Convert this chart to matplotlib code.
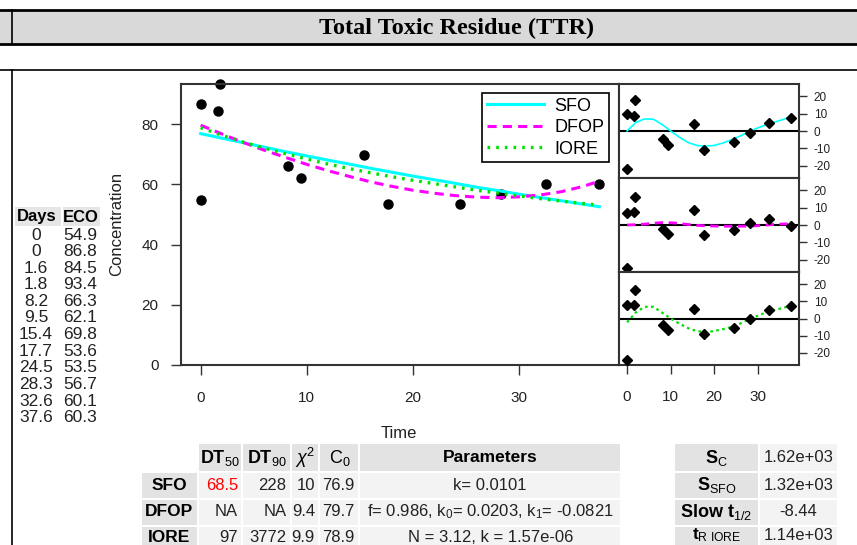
import matplotlib
matplotlib.use('Agg')
import matplotlib.pyplot as plt
from matplotlib.patches import Rectangle

plt.rcParams['font.family'] = ['Liberation Sans', 'DejaVu Sans']
plt.rcParams['mathtext.fontset'] = 'custom'
plt.rcParams['mathtext.rm'] = 'Liberation Sans'
plt.rcParams['mathtext.bf'] = 'Liberation Sans:bold'
plt.rcParams['mathtext.it'] = 'Liberation Sans:italic'
plt.rcParams['axes.unicode_minus'] = False

W, H = 857, 545

# observed data
days = [0, 0, 1.6, 1.8, 8.2, 9.5, 15.4, 17.7, 24.5, 28.3, 32.6, 37.6]
eco = [54.9, 86.8, 84.5, 93.4, 66.3, 62.1, 69.8, 53.6, 53.5, 56.7, 60.1, 60.3]

# fitted curves
fit_t = [0, 2, 4, 6, 8, 10, 12, 14, 16, 18, 20, 22, 24, 26, 28, 30, 32, 34, 36, 37.6]
sfo_fit = [76.9, 75.4, 73.9, 72.4, 70.9, 69.5, 68.1, 66.8, 65.4, 64.1, 62.8, 61.6,
           60.4, 59.1, 58.0, 56.8, 55.7, 54.6, 53.5, 52.6]
dfop_fit = [79.7, 76.8, 74.0, 71.4, 69.0, 66.7, 64.6, 62.7, 60.9, 59.4, 58.1, 57.1,
            56.3, 55.8, 55.6, 55.9, 56.5, 57.6, 59.3, 61.1]
iore_fit = [78.9, 76.4, 74.1, 72.1, 70.2, 68.5, 66.8, 65.3, 63.9, 62.6, 61.4, 60.3,
            59.2, 58.1, 57.2, 56.2, 55.3, 54.5, 53.7, 53.1]

# residuals
sfo_res = [-22.0, 9.9, 8.8, 17.9, -4.5, -7.8, 4.0, -10.7, -6.5, -1.1, 4.8, 7.7]
dfop_res = [-24.8, 7.1, 7.2, 16.3, -2.4, -5.1, 8.4, -6.0, -2.6, 1.1, 3.3, -0.8]
iore_res = [-24.0, 7.9, 7.6, 16.8, -3.7, -6.8, 5.5, -9.2, -5.4, -0.3, 5.0, 7.2]

# smoothed residual trends
sm_t = [0, 2, 4, 6, 8, 10, 12, 14, 16, 18, 20, 22, 24, 26, 28, 30, 32, 34, 36, 37.6]
sfo_smooth = [0.0, 4.9, 6.9, 6.8, 3.8, 0.0, -3.6, -6.6, -8.3, -8.7, -8.3, -6.9,
              -5.0, -2.8, -0.3, 1.8, 3.6, 5.2, 6.8, 8.2]
dfop_smooth = [0.0, 0.2, 0.5, 1.0, 1.4, 1.3, 0.9, 0.3, -0.2, -0.5, -0.6, -0.7,
               -0.7, -0.7, -0.6, -0.4, 0.0, 0.4, 0.6, 0.6]
iore_smooth = [-2.2, 3.5, 6.8, 6.8, 3.5, 0.0, -3.0, -5.6, -7.3, -7.9, -7.3, -6.2,
               -4.9, -2.9, -0.6, 1.6, 3.6, 5.0, 6.3, 7.4]

models = ['SFO', 'DFOP', 'IORE']
dt50 = ['68.5', 'NA', '97']
dt90 = ['228', 'NA', '3772']
chi2 = ['10', '9.4', '9.9']
c0 = ['76.9', '79.7', '78.9']
params = ['k= 0.0101',
          'f= 0.986, k$_0$= 0.0203, k$_1$= -0.0821',
          'N = 3.12, k = 1.57e-06']
stat_labels = [r'$\mathbf{S}_{\mathrm{C}}$', r'$\mathbf{S}_{\mathrm{SFO}}$',
               r'$\mathbf{Slow\ t}_{\mathrm{1/2}}$', r'$\mathbf{t}_{\mathrm{R\ IORE}}$']
stat_values = ['1.62e+03', '1.32e+03', '-8.44', '1.14e+03']

SPINE = '#333333'


def px_box(x0, y0, x1, y1):
    return [x0 / W, 1 - y1 / H, (x1 - x0) / W, (y1 - y0) / H]


fig = plt.figure(figsize=(W / 100, H / 100), dpi=100)
bg = fig.add_axes([0, 0, 1, 1])
bg.set_xlim(0, W)
bg.set_ylim(H, 0)
bg.axis('off')


def cell(x0, y0, x1, y1, color):
    bg.add_patch(Rectangle((x0, y0), x1 - x0, y1 - y0, fc=color, ec='none'))


# title bar
cell(0, 10, W, 44, '#d9d9d9')
bg.plot([0, W], [10, 10], color='black', lw=2)
bg.plot([0, W], [44, 44], color='black', lw=2)
bg.plot([12, 12], [10, 44], color='black', lw=1.2)
bg.text(457, 28, 'Total Toxic Residue (TTR)', family='Liberation Serif',
        weight='bold', fontsize=17.5, ha='center', va='center')
bg.plot([0, W], [70, 70], color='black', lw=1.2)
bg.plot([12, 12], [70, H], color='black', lw=1.2)

# left data table
cell(15, 207, 61, 226, '#e6e6e6')
cell(63, 207, 100, 226, '#e6e6e6')
bg.text(37, 217, 'Days', fontsize=12, weight='bold', ha='center', va='center')
bg.text(81, 217, 'ECO', fontsize=12, weight='bold', ha='center', va='center')
for i, (d, c) in enumerate(zip(days, eco)):
    y = 235 + 16.6 * i
    bg.text(36, y, f'{d:g}', fontsize=12.5, ha='center', va='center', color='#222222')
    bg.text(80, y, f'{c:g}', fontsize=12.5, ha='center', va='center', color='#222222')

# main plot
ax = fig.add_axes(px_box(181, 84, 619, 365))
ax.plot(days, eco, 'o', color='black', ms=6.5, clip_on=False, zorder=2)
ax.plot(fit_t, sfo_fit, color='cyan', lw=2.2, label='SFO', zorder=3)
ax.plot(fit_t, dfop_fit, color='magenta', lw=2.2, dashes=(3, 2), label='DFOP', zorder=3)
ax.plot(fit_t, iore_fit, color='#00e000', lw=2.4, dashes=(0.8, 1.8), label='IORE', zorder=3)
ax.set_xlim(-1.85, 39.45)
ax.set_ylim(0, 93.4)
ax.set_xticks([0, 10, 20, 30])
ax.set_yticks([0, 20, 40, 60, 80])
for s in ax.spines.values():
    s.set_color(SPINE)
    s.set_linewidth(1.5)
ax.tick_params(direction='out', length=7.5, width=1, colors=SPINE,
               labelcolor='#222222', labelsize=11)
ax.tick_params(axis='x', pad=11.5)
ax.tick_params(axis='y', pad=8.6)
leg = ax.legend(loc='upper right', bbox_to_anchor=(0.977, 0.968), borderaxespad=0,
                fontsize=13, handlelength=3.2, handletextpad=0.55, labelspacing=0.25,
                fancybox=False, framealpha=1, edgecolor='black', borderpad=0.25)
leg.get_frame().set_linewidth(1.2)
bg.text(117, 224, 'Concentration', fontsize=12, rotation=90, ha='center', va='center',
        color='#222222')
bg.text(399, 433, 'Time', fontsize=12, ha='center', va='center', color='#222222')

# residual panels
panels = [(84, 178, sfo_res, sfo_smooth, dict(color='cyan', lw=1.2)),
          (178, 272, dfop_res, dfop_smooth, dict(color='magenta', lw=2, dashes=(3, 2))),
          (272, 365, iore_res, iore_smooth, dict(color='#00e000', lw=1.6, dashes=(1.2, 1.5)))]
for k, (y0, y1, res, smooth, style) in enumerate(panels):
    r = fig.add_axes(px_box(619, y0, 799, y1))
    r.axhline(0, color='black', lw=1.5, zorder=1)
    r.plot(sm_t, smooth, zorder=2, **style)
    r.plot(days, res, 'D', color='black', ms=5.5, zorder=3)
    r.set_xlim(-1.85, 39.45)
    r.set_ylim(-27, 27)
    r.set_yticks([-20, -10, 0, 10, 20])
    r.set_xticks([0, 10, 20, 30])
    r.yaxis.tick_right()
    for s in r.spines.values():
        s.set_color(SPINE)
        s.set_linewidth(1.5)
    r.tick_params(axis='y', direction='out', length=5.5, width=1, colors=SPINE,
                  labelcolor='#222222', labelsize=8.5, pad=5)
    if k < 2:
        r.tick_params(axis='x', bottom=False, labelbottom=False)
    else:
        r.tick_params(axis='x', direction='out', length=6.7, width=1, colors=SPINE,
                      labelcolor='#222222', labelsize=11, pad=11.5)

# bottom fit table
HEAD = '#e3e3e3'
DATA = '#f3f3f3'
rows_y = [(444, 471), (473, 497.5), (499.5, 524.5), (526.5, 551)]
cols_x = [(142, 197), (199, 241.5), (243.5, 290), (292, 318.5), (320.5, 358.5), (360.5, 620)]
heads = [r'$\mathbf{DT}_{\mathrm{50}}$', r'$\mathbf{DT}_{\mathrm{90}}$', r'$\chi^2$',
         r'$\mathrm{C}_{0}$']
for j, h in enumerate(heads):
    x0, x1 = cols_x[j + 1]
    cell(x0, rows_y[0][0], x1, rows_y[0][1], HEAD)
    bg.text((x0 + x1) / 2, 458, h, fontsize=13, ha='center', va='center')
x0, x1 = cols_x[5]
cell(x0, rows_y[0][0], x1, rows_y[0][1], HEAD)
bg.text((x0 + x1) / 2, 458, 'Parameters', fontsize=12.5, weight='bold', ha='center', va='center')
for i, m in enumerate(models):
    y0, y1 = rows_y[i + 1]
    yc = (y0 + y1) / 2 if i < 2 else 537
    cell(cols_x[0][0], y0, cols_x[0][1], y1, HEAD)
    bg.text(sum(cols_x[0]) / 2, yc, m, fontsize=12.5, weight='bold', ha='center', va='center')
    vals = [dt50[i], dt90[i], chi2[i], c0[i]]
    for j, v in enumerate(vals):
        cx0, cx1 = cols_x[j + 1]
        cell(cx0, y0, cx1, y1, DATA)
        bg.text(cx1 - 3.5, yc, v, fontsize=12, ha='right', va='center',
                color='red' if (i == 0 and j == 0) else '#222222')
    cell(cols_x[5][0], y0, cols_x[5][1], y1, DATA)
    bg.text(sum(cols_x[5]) / 2, yc, params[i], fontsize=12, ha='center', va='center',
            color='#222222')

# right stats table
for i, (lab, val) in enumerate(zip(stat_labels, stat_values)):
    y0, y1 = rows_y[i]
    yc = (y0 + y1) / 2 if i < 3 else 535.5
    cell(675, y0, 758, y1, HEAD)
    cell(760, y0, 837, y1, DATA)
    bg.text(716.5, yc, lab, fontsize=13 if i < 3 else 12.5, ha='center', va='center')
    bg.text(798.5, yc, val, fontsize=12, ha='center', va='center', color='#222222')

fig.savefig('out.png', dpi=100)
